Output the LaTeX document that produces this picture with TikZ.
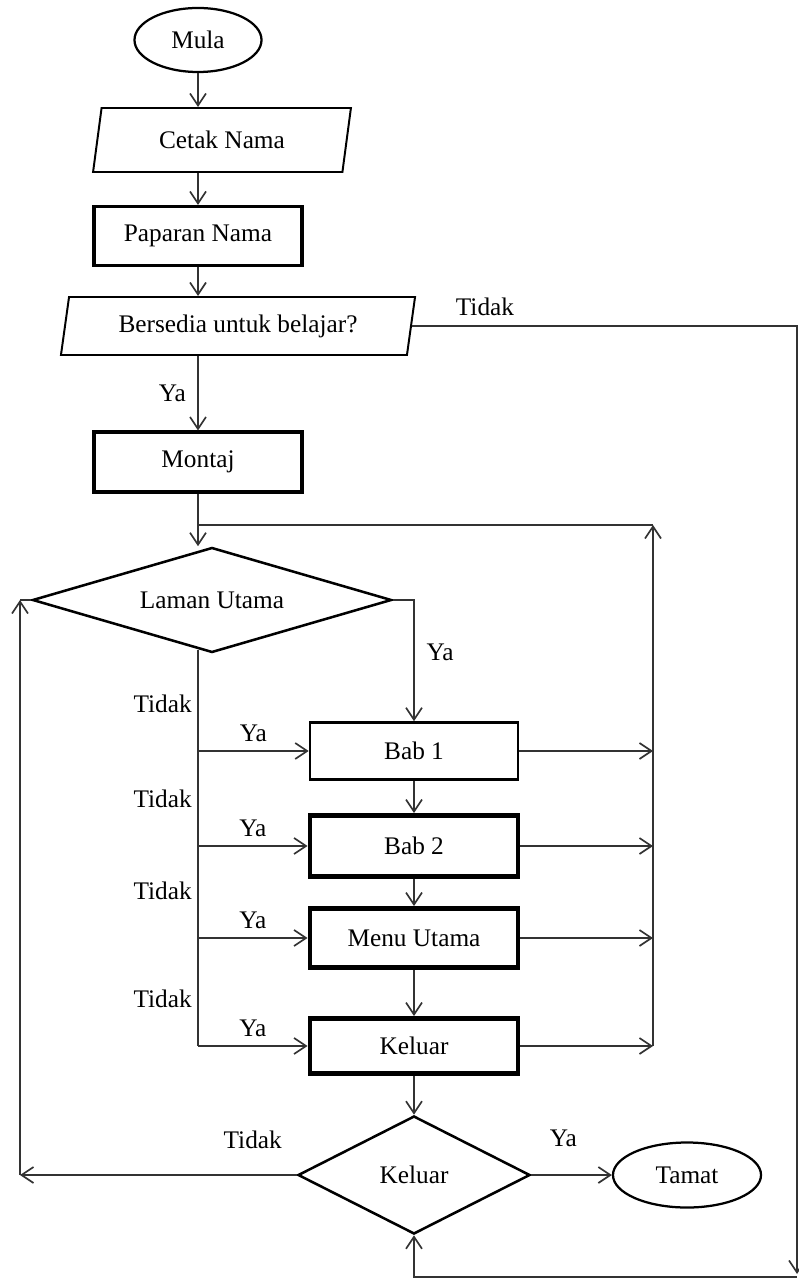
\documentclass[tikz,border=0pt]{standalone}
\usepackage{fontspec}
\setmainfont{Liberation Serif}
\usetikzlibrary{shapes.geometric, arrows.meta, positioning}
\tikzset{
  txt/.style={font=\fontsize{18}{20}\selectfont},
  flow/.style={draw=black!80, line width=1.2pt},
  arr/.style={flow, -{Straight Barb[length=3mm, width=4mm]}},
  terminal/.style={txt, ellipse, draw, line width=1.6pt, inner sep=0pt},
  io/.style={txt, trapezium, trapezium left angle=76, trapezium right angle=104,
    trapezium stretches=true, draw, line width=1.4pt, inner sep=0pt},
  proc/.style={txt, rectangle, draw, line width=3.4pt, minimum width=5.2cm, inner sep=0pt},
  decide/.style={txt, diamond, draw, line width=1.8pt, inner sep=0pt},
  lbl/.style={txt, inner sep=0pt}
}
\begin{document}
\begin{tikzpicture}[x=0.025cm, y=-0.025cm]
    \useasboundingbox (0,0) rectangle (798,1279);
    % main column
    \node[terminal, minimum width=3.175cm, minimum height=1.6cm] (mula) at (198,40) {Mula};
    \node[io, minimum width=6.475cm, minimum height=1.6cm] (cetak) at (222,140) {Cetak Nama};
    \node[proc, line width=2.2pt, minimum height=1.475cm] (paparan) at (198,236) {Paparan Nama};
    \node[io, minimum width=8.875cm, minimum height=1.45cm] (bersedia) at (238,326) {Bersedia untuk belajar?};
    \node[proc, line width=2.2pt, minimum height=1.5cm] (montaj) at (198,462) {Montaj};
    \node[decide, aspect=3.4, minimum width=8.975cm, minimum height=2.625cm] (laman) at (212,600) {Laman Utama};
    \node[proc, line width=1.8pt, minimum height=1.425cm] (bab1) at (414,751) {Bab 1};
    \node[proc, minimum height=1.525cm] (bab2) at (414,846) {Bab 2};
    \node[proc, minimum height=1.475cm] (menu) at (414,938) {Menu Utama};
    \node[proc, minimum height=1.375cm] (keluar) at (414,1046) {Keluar};
    \node[decide, aspect=2, minimum width=5.8cm, minimum height=2.95cm] (kdiam) at (414,1175) {Keluar};
    \node[terminal, minimum width=3.7cm, minimum height=1.625cm] (tamat) at (687,1175) {Tamat};
    % turning points
    \coordinate (jtop) at (198,525);
    \coordinate (jright) at (653,525);
    \coordinate (lft) at (20,600);
    \coordinate (rgt) at (797,1277);
    % connectors
    \draw[arr] (mula) -- (mula |- cetak.north);
    \draw[arr] (mula |- cetak.south) -- (paparan);
    \draw[arr] (paparan) -- (paparan |- bersedia.north);
    \draw[arr] (paparan |- bersedia.south) -- node[lbl, left=8pt] {Ya} (montaj);
    \draw[arr] (montaj) -- (montaj |- laman.north);
    \draw[flow] (jtop) -- (jright);
    \draw[arr] (jright |- keluar) -- (jright);
    \draw[arr] (laman.east) -| (bab1);
    \node[lbl] at ([shift={(26,52)}]laman.east -| bab1) {Ya};
    \draw[flow] ([shift={(0,-4)}]jtop |- laman.south) -- (jtop |- keluar);
    \foreach \n in {bab1,bab2,menu,keluar}{%
            \draw[arr] (jtop |- \n) -- node[lbl, above=6pt] {Ya} (\n);
            \node[lbl, anchor=east] at ([shift={(-6,-47)}]jtop |- \n) {Tidak};
            \draw[arr] (\n) -- (\n -| jright);
        }
    \foreach \a/\b in {bab1/bab2,bab2/menu,menu/keluar,keluar/kdiam}{%
            \draw[arr] (\a) -- (\b);
        }
    \draw[arr] (kdiam.west) -- (kdiam.west -| lft);
    \draw[arr] (kdiam.west -| lft) -- (lft);
    \draw[flow] (lft) -- (laman.west);
    \node[lbl] at ([shift={(-44,-35)}]kdiam.west) {Tidak};
    \draw[arr] (kdiam.east) -- (tamat);
    \node[lbl] at ([shift={(32,-37)}]kdiam.east) {Ya};
    \draw[arr] (bersedia.east) -| ([shift={(0,-3)}]rgt);
    \node[lbl] at ([shift={(73,-19)}]bersedia.east) {Tidak};
    \draw[arr] (rgt) -| (kdiam.south);
\end{tikzpicture}
\end{document}
